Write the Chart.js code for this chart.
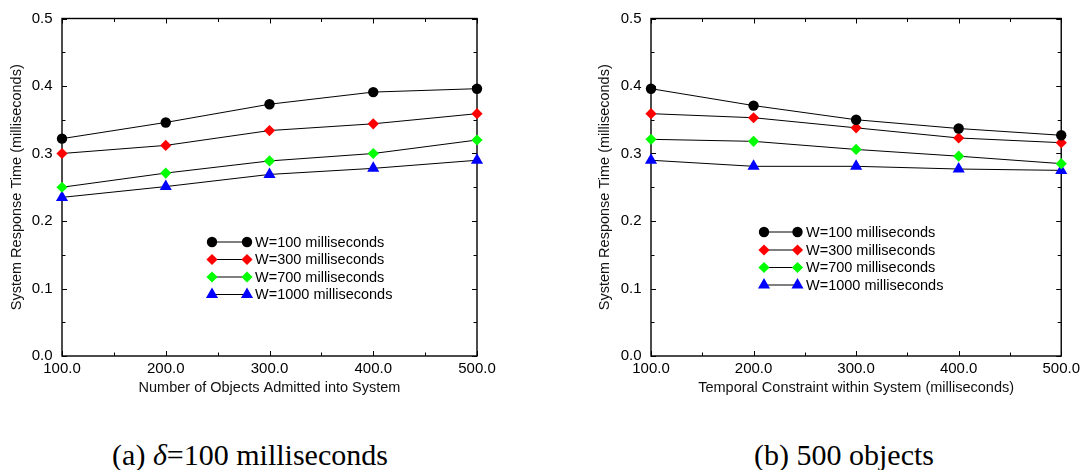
<!DOCTYPE html>
<html><head><meta charset="utf-8">
<script src="https://cdn.jsdelivr.net/npm/chart.js@4"></script>
<style>
html,body{margin:0;padding:0;background:#fff;width:1084px;height:470px;overflow:hidden;position:relative}
#c1{position:absolute;left:0;top:0}
#c2{position:absolute;left:580px;top:0}
.cap{position:absolute;top:440px;font-family:"Liberation Serif","Times New Roman",serif;font-size:30px;line-height:30px;white-space:nowrap;transform:translateX(-50%);color:#000}
</style></head><body>
<canvas id="c1" width="542" height="400"></canvas>
<canvas id="c2" width="504" height="400"></canvas>
<div class="cap" style="left:250px">(a) <i>δ</i>=100 milliseconds</div>
<div class="cap" style="left:844px">(b) 500 objects</div>
<script>
// ---- data ----
const xValues = [100, 200, 300, 400, 500];
const seriesNames = ['W=100 milliseconds', 'W=300 milliseconds', 'W=700 milliseconds', 'W=1000 milliseconds'];
const yTicks = [0.0, 0.1, 0.2, 0.3, 0.4, 0.5];
const xTicks = [100, 200, 300, 400, 500];

// (a) vs number of objects
const aW100  = [0.322, 0.346, 0.373, 0.391, 0.396];
const aW300  = [0.300, 0.312, 0.334, 0.344, 0.359];
const aW700  = [0.250, 0.271, 0.289, 0.300, 0.320];
const aW1000 = [0.235, 0.251, 0.269, 0.278, 0.290];

// (b) vs temporal constraint
const bW100  = [0.396, 0.371, 0.350, 0.337, 0.327];
const bW300  = [0.359, 0.353, 0.338, 0.323, 0.316];
const bW700  = [0.321, 0.318, 0.306, 0.296, 0.285];
const bW1000 = [0.290, 0.281, 0.281, 0.277, 0.275];

const titleA = 'Number of Objects Admitted into System';
const titleB = 'Temporal Constraint within System (milliseconds)';
const titleY = 'System Response Time (milliseconds)';

// ---- styles ----
const FONT = '"Liberation Sans", Arial, Helvetica, sans-serif';
const markerStyles = [
  {style: 'circle',  color: '#000000', r: 5.2},
  {style: 'rectRot', color: '#ff0000', r: 5.6},
  {style: 'rectRot', color: '#00ff00', r: 5.6},
  {style: 'triangle',color: '#0000ff', r: 7}
];

function drawMarker(ctx, m, x, y) {
  ctx.save();
  ctx.fillStyle = m.color;
  ctx.beginPath();
  if (m.style === 'circle') {
    ctx.arc(x, y, m.r, 0, Math.PI * 2);
  } else if (m.style === 'rectRot') {
    ctx.moveTo(x, y - m.r); ctx.lineTo(x + m.r, y); ctx.lineTo(x, y + m.r); ctx.lineTo(x - m.r, y);
  } else {
    const r = m.r;
    ctx.moveTo(x, y - r);
    ctx.lineTo(x + r * Math.sin(2 * Math.PI / 3), y - r * Math.cos(2 * Math.PI / 3));
    ctx.lineTo(x + r * Math.sin(4 * Math.PI / 3), y - r * Math.cos(4 * Math.PI / 3));
  }
  ctx.closePath();
  ctx.fill();
  ctx.restore();
}

const frameTicks = {
  id: 'frameTicks',
  beforeDatasetsDraw(chart) {
    const {ctx, chartArea: {left, right, top, bottom}, scales: {x, y}} = chart;
    ctx.save();
    ctx.strokeStyle = '#000';
    ctx.lineWidth = 1;
    ctx.beginPath();
    for (let i = 0; i <= 8; i++) {
      const v = 100 + i * 50;
      const px = Math.round(x.getPixelForValue(v)) + 0.5;
      const L = (i % 2 === 0) ? 5 : 3.5;
      ctx.moveTo(px, bottom); ctx.lineTo(px, bottom - L);
      ctx.moveTo(px, top); ctx.lineTo(px, top + L);
    }
    for (let i = 0; i <= 10; i++) {
      const v = i * 0.05;
      const py = Math.round(y.getPixelForValue(v)) + 0.5;
      const L = (i % 2 === 0) ? 5 : 3.5;
      ctx.moveTo(left, py); ctx.lineTo(left + L, py);
      ctx.moveTo(right, py); ctx.lineTo(right - L, py);
    }
    ctx.stroke();
    ctx.lineWidth = 1.4;
    ctx.strokeRect(left, top, right - left, bottom - top);
    ctx.restore();
  }
};

const customLegend = {
  id: 'customLegend',
  afterDatasetsDraw(chart, args, opts) {
    const {ctx} = chart;
    ctx.save();
    opts.rows.forEach((ry, i) => {
      ctx.strokeStyle = '#000';
      ctx.lineWidth = 1;
      ctx.beginPath();
      ctx.moveTo(opts.x1, ry); ctx.lineTo(opts.x2, ry);
      ctx.stroke();
      drawMarker(ctx, markerStyles[i], opts.x1, ry);
      drawMarker(ctx, markerStyles[i], opts.x2, ry);
      ctx.fillStyle = '#000';
      ctx.font = '14.5px ' + FONT;
      ctx.textBaseline = 'middle';
      ctx.textAlign = 'left';
      ctx.fillText(seriesNames[i], opts.tx, ry + 0.5);
    });
    ctx.restore();
  }
};

function makeChart(id, series, xTitle, cfg) {
  const datasets = series.map((vals, i) => ({
    label: seriesNames[i],
    data: xValues.map((xv, j) => ({x: xv, y: vals[j]})),
    borderColor: '#000',
    borderWidth: 1,
    pointStyle: markerStyles[i].style,
    pointRadius: markerStyles[i].r,
    pointBackgroundColor: markerStyles[i].color,
    pointBorderColor: markerStyles[i].color,
    pointBorderWidth: 0,
    tension: 0,
    fill: false,
    clip: false
  }));
  return new Chart(document.getElementById(id), {
    type: 'line',
    data: {datasets},
    options: {
      responsive: false,
      animation: false,
      events: [],
      layout: {padding: {left: 0, top: 18, right: cfg.padRight, bottom: 0}},
      plugins: {
        legend: {display: false},
        tooltip: {enabled: false},
        customLegend: {x1: cfg.lx1, x2: cfg.lx2, tx: cfg.tx, rows: cfg.rows}
      },
      scales: {
        x: {
          type: 'linear', min: 100, max: 500,
          afterBuildTicks: s => { s.ticks = xTicks.map(v => ({value: v})); },
          afterFit: s => { s.height = 44; },
          grid: {display: false, drawTicks: false},
          border: {display: false},
          ticks: {padding: 4, color: '#000', font: {family: FONT, size: 15}, callback: v => Number(v).toFixed(1), maxRotation: 0, autoSkip: false},
          title: {display: true, text: xTitle, color: '#111', font: {family: FONT, size: 14.5}, padding: {top: 0, bottom: 3.3}}
        },
        y: {
          type: 'linear', min: 0, max: 0.5,
          afterBuildTicks: s => { s.ticks = yTicks.map(v => ({value: v})); },
          afterFit: s => { s.width = cfg.yWidth; },
          grid: {display: false, drawTicks: false},
          border: {display: false},
          ticks: {padding: 9.5, color: '#000', font: {family: FONT, size: 15}, callback: v => Number(v).toFixed(1)},
          title: {display: true, text: titleY, color: '#111', font: {family: FONT, size: 14.5}, padding: {top: cfg.yTitlePad, bottom: 0}}
        }
      }
    },
    plugins: [frameTicks, customLegend]
  });
}

makeChart('c1', [aW100, aW300, aW700, aW1000], titleA,
  {padRight: 542 - 477, yWidth: 62, yTitlePad: 7.8, lx1: 212, lx2: 247, tx: 255, rows: [242, 259.5, 277, 294.5]});
makeChart('c2', [bW100, bW300, bW700, bW1000], titleB,
  {padRight: 504 - 486, yWidth: 71, yTitlePad: 16.3, lx1: 764 - 580, lx2: 797.5 - 580, tx: 806 - 580, rows: [232, 250, 267.5, 285]});
</script>
</body></html>
